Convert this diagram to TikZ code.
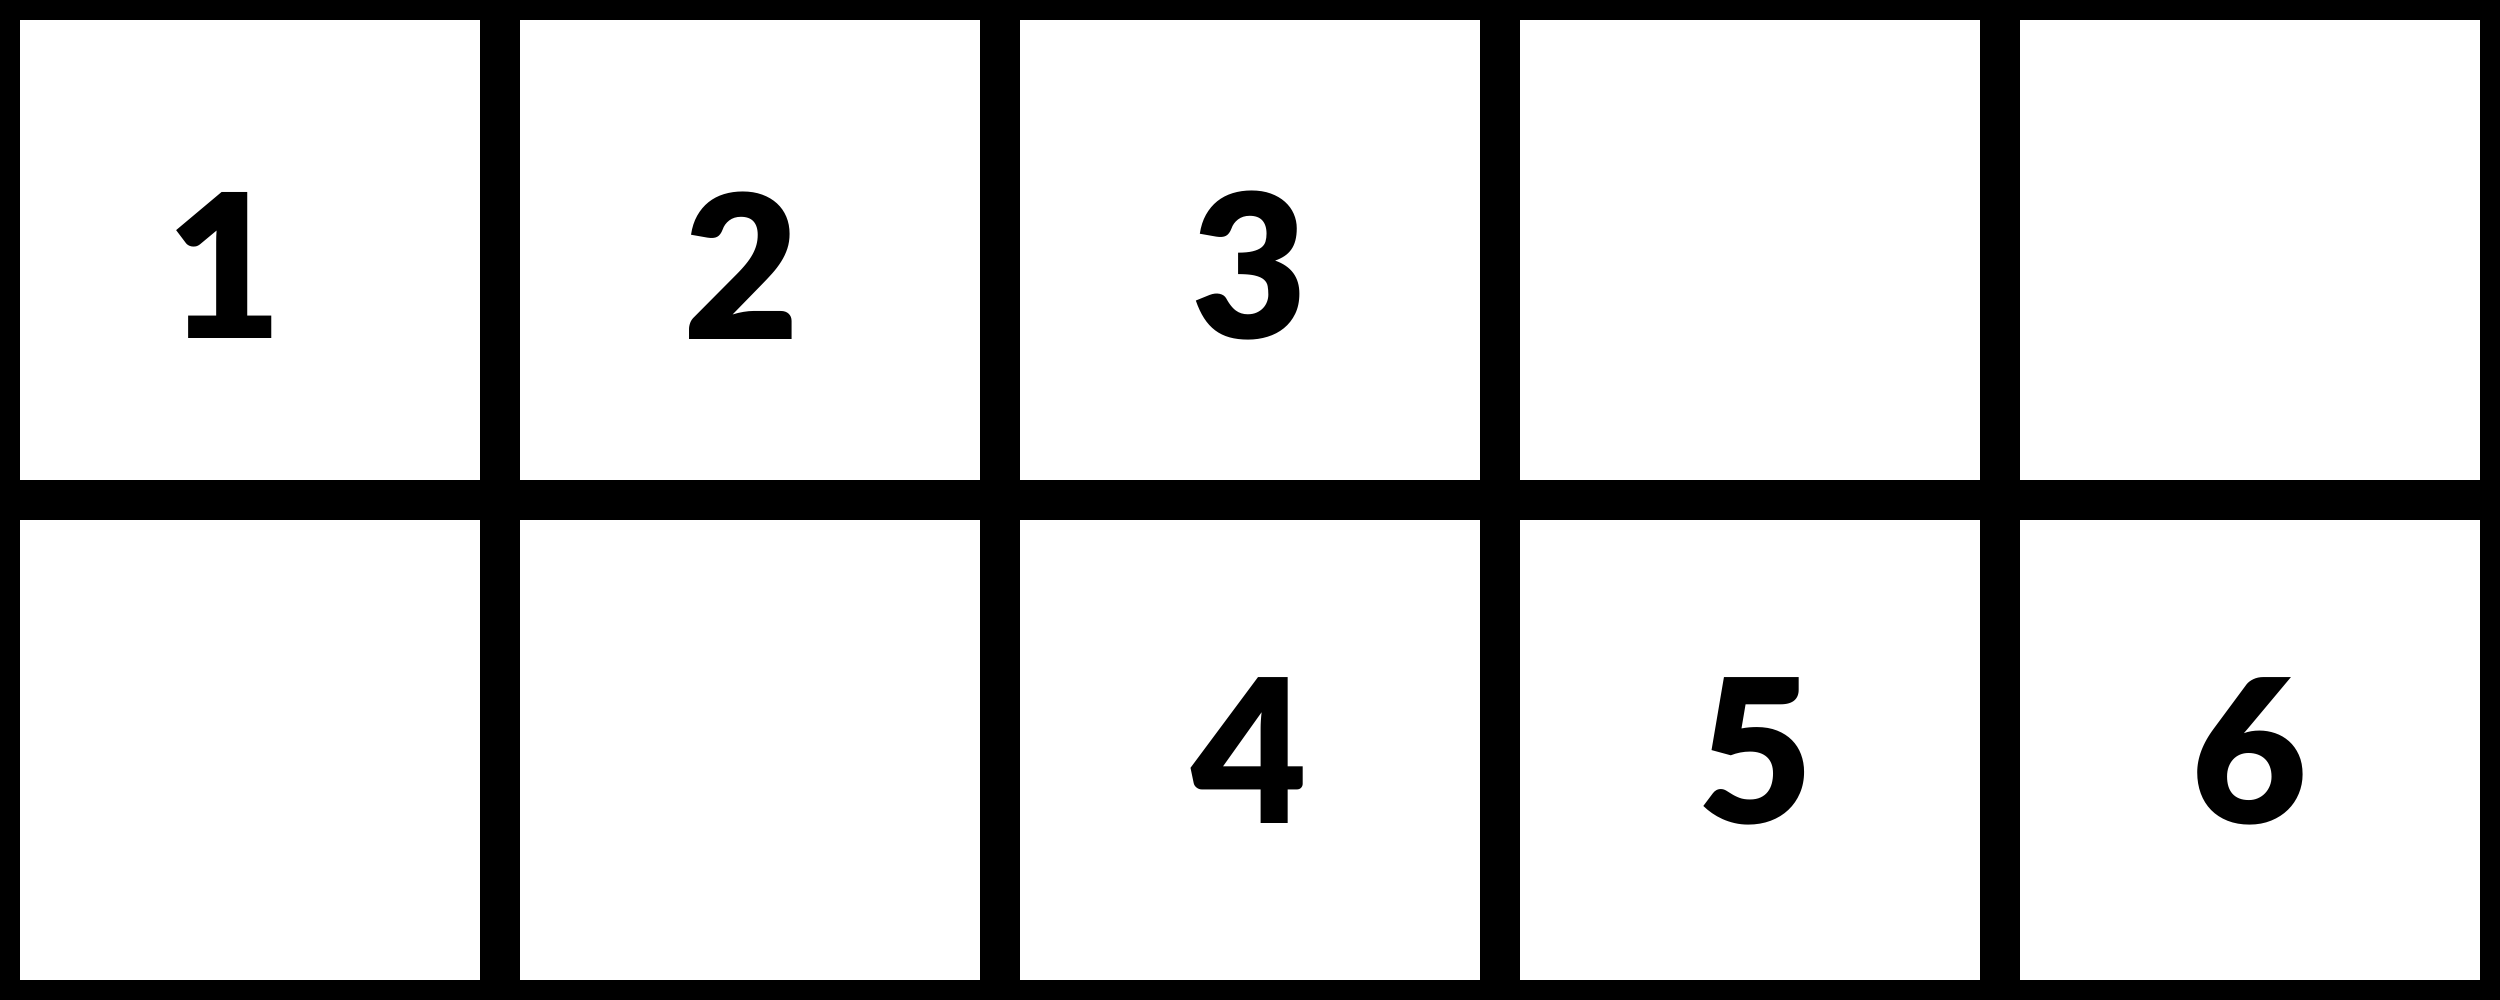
\documentclass[tikz,border=0pt]{standalone}
\usepackage{fontspec}
\newfontfamily\heavyfont{Lato Black}
\usepackage{tikz}
\tikzset{cell/.style = {shape=rectangle,fill=white,minimum size=4.6cm,inner sep=0pt}}
\tikzset{digit/.style = {inner sep=0pt,font=\fontsize{57}{60}\selectfont\heavyfont}}

\begin{document}
\begin{tikzpicture}
                    \fill[black] (0,0) rectangle (25,10);

                    \node[cell] (a1) at (2.5,7.5) {};
                    \node[cell] (a2) at (7.5,7.5) {};
                    \node[cell] (a3) at (12.5,7.5) {};
                    \node[cell] (a4) at (17.5,7.5) {};
                    \node[cell] (a5) at (22.5,7.5) {};

                    \node[cell] (b1) at (2.5,2.5) {};
                    \node[cell] (b2) at (7.5,2.5) {};
                    \node[cell] (b3) at (12.5,2.5) {};
                    \node[cell] (b4) at (17.5,2.5) {};
                    \node[cell] (b5) at (22.5,2.5) {};

                    \node[digit] (n1) at (2.25,7.34) {1};
                    \node[digit] (n2) at (7.42,7.34) {2};
                    \node[digit] (n3) at (12.5,7.34) {3};
                    \node[digit] (n4) at (12.5,2.49) {4};
                    \node[digit] (n5) at (17.56,2.49) {5};
                    \node[digit] (n6) at (22.5,2.49) {6};
                \end{tikzpicture}
\end{document}
